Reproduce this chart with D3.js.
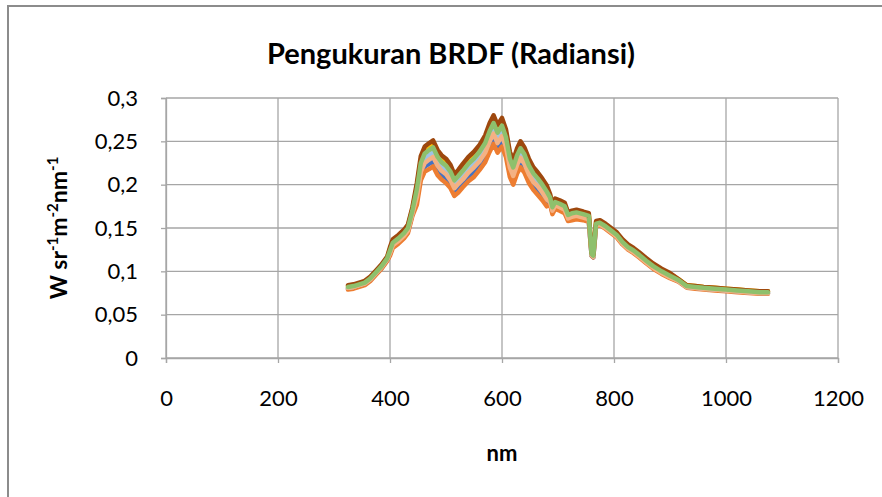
<!DOCTYPE html>
<html>
<head>
<meta charset="utf-8">
<script src="https://cdn.jsdelivr.net/npm/d3@7"></script>
<style>
  body { margin: 0; background: #fff; }
  text { font-family: Lato, "Open Sans", sans-serif; fill: #000; }
</style>
</head>
<body>
<div id="chart"></div>
<script>
// wavelengths (nm)
const wavelength = [325,335,345,355,365,375,385,395,
  400,405,415,425,432,440,
  448,455,462,470,477,485,492,500,508,515,
  522,530,540,550,560,570,578,585,592,600,
  607,614,620,627,633,640,648,656,664,672,
  680,686,690,695,703,712,718,725,733,745,
  755,760,763,768,775,785,795,805,815,825,
  835,845,858,870,885,900,915,930,945,960,
  980,1000,1020,1040,1060,1075];

// radiance per measurement (W sr-1 m-2 nm-1)
const seriesBlue = [.080,.081,.083,.085,.090,.097,.104,.113,
  .120,.129,.134,.140,.146,.166,
  .182,.210,.221,.224,.227,.217,.211,.208,.201,.192,
  .196,.202,.209,.215,.223,.232,.245,.253,.243,.251,
  .238,.215,.206,.219,.226,.220,.208,.199,.194,.187,
  .180,.179,.168,.174,.172,.169,.159,.161,.162,.160,
  .158,.118,.116,.153,.154,.150,.145,.140,.132,.126,
  .122,.117,.110,.104,.098,.093,.089,.082,.081,.080,
  .079,.078,.077,.076,.075,.075];

const seriesOrange = [.079,.080,.082,.084,.089,.096,.103,.112,
  .118,.127,.132,.138,.144,.164,
  .177,.205,.215,.218,.221,.211,.206,.202,.196,.187,
  .191,.197,.204,.209,.217,.226,.238,.247,.237,.244,
  .232,.209,.200,.213,.220,.214,.202,.194,.188,.182,
  .175,.177,.166,.172,.170,.167,.158,.159,.160,.159,
  .157,.118,.116,.152,.153,.149,.144,.139,.131,.125,
  .121,.116,.109,.103,.097,.092,.088,.081,.080,.079,
  .078,.077,.076,.075,.074,.074];

const seriesLightBlue = [.081,.082,.084,.086,.091,.098,.105,.114,
  .122,.131,.136,.142,.148,.168,
  .190,.219,.230,.234,.237,.226,.220,.216,.210,.200,
  .205,.211,.218,.224,.232,.242,.255,.264,.254,.261,
  .249,.224,.215,.228,.236,.229,.216,.208,.202,.195,
  .187,.182,.171,.177,.175,.172,.163,.164,.165,.164,
  .162,.119,.117,.154,.155,.151,.146,.141,.133,.127,
  .123,.118,.111,.105,.099,.094,.089,.082,.081,.080,
  .079,.078,.077,.076,.075,.075];

const seriesYellow = [.083,.084,.086,.088,.093,.100,.107,.116,
  .126,.135,.140,.146,.152,.172,
  .198,.229,.240,.244,.247,.236,.230,.226,.219,.209,
  .214,.220,.228,.234,.242,.252,.267,.276,.265,.273,
  .260,.234,.224,.238,.246,.239,.226,.217,.211,.204,
  .195,.187,.176,.182,.180,.177,.167,.169,.170,.168,
  .166,.121,.119,.157,.158,.154,.149,.144,.136,.130,
  .126,.121,.114,.108,.102,.097,.091,.084,.083,.082,
  .081,.080,.079,.078,.077,.077];

const seriesSalmon = [.081,.082,.084,.086,.091,.098,.105,.114,
  .121,.130,.135,.141,.147,.167,
  .186,.215,.225,.229,.232,.222,.216,.212,.205,.196,
  .201,.206,.214,.220,.227,.237,.250,.259,.248,.256,
  .244,.220,.210,.223,.231,.224,.212,.203,.198,.191,
  .183,.180,.170,.176,.174,.171,.161,.163,.164,.162,
  .160,.119,.117,.153,.154,.150,.145,.140,.132,.126,
  .122,.117,.110,.104,.098,.093,.089,.082,.081,.080,
  .079,.078,.077,.076,.075,.075];

const seriesBrown = [.084,.085,.087,.089,.094,.101,.108,.117,
  .128,.137,.142,.148,.154,.174,
  .202,.233,.244,.248,.251,.240,.234,.230,.223,.212,
  .217,.224,.232,.238,.246,.257,.271,.280,.269,.277,
  .264,.238,.228,.242,.250,.243,.230,.220,.214,.207,
  .199,.189,.177,.184,.182,.179,.168,.170,.171,.169,
  .167,.121,.119,.158,.159,.155,.150,.145,.137,.131,
  .127,.122,.115,.109,.103,.098,.091,.084,.083,.082,
  .081,.080,.079,.078,.077,.077];

const seriesGreen = [.082,.083,.085,.087,.092,.099,.106,.115,
  .124,.133,.138,.144,.150,.170,
  .195,.225,.236,.240,.243,.232,.226,.222,.215,.205,
  .210,.216,.224,.230,.238,.248,.262,.271,.260,.268,
  .255,.230,.220,.234,.242,.235,.222,.213,.207,.200,
  .192,.185,.174,.180,.178,.175,.165,.167,.168,.166,
  .164,.120,.118,.155,.156,.152,.147,.142,.134,.128,
  .124,.119,.112,.106,.100,.095,.090,.083,.082,.081,
  .080,.079,.078,.077,.076,.076];

const xTicks = [0, 200, 400, 600, 800, 1000, 1200];
const yTicks = [0, 0.05, 0.1, 0.15, 0.2, 0.25, 0.3];

const width = 882, height = 497,
    margin = ({ top: 98, right: 44, bottom: 139, left: 166 });

const series = [
  { values: seriesBlue, color: "#4472C4" },
  { values: seriesOrange, color: "#ED7D31" },
  { values: seriesLightBlue, color: "#9DC3E6" },
  { values: seriesYellow, color: "#FFC000" },
  { values: seriesSalmon, color: "#F4B183" },
  { values: seriesBrown, color: "#9E480E" },
  { values: seriesGreen, color: "#8EC06C" }
];

const svg = d3.select("#chart")
    .append("svg")
    .attr("width", width)
    .attr("height", height);

// chart area border (runs past the picture on right/bottom)
svg.append("rect")
    .attr("x", 8).attr("y", 6)
    .attr("width", 920).attr("height", 520)
    .attr("fill", "none")
    .attr("stroke", "#8c8c8c")
    .attr("stroke-width", 2);

let x = d3.scaleLinear()
    .domain([0, 1200])
    .range([margin.left, width - margin.right]);

let y = d3.scaleLinear()
    .domain([0, 0.3])
    .range([height - margin.bottom, margin.top]);

const gridColor = "#a6a6a6";

// gridlines
svg.append("g")
  .selectAll("line")
  .data(yTicks)
  .join("line")
    .attr("x1", margin.left).attr("x2", width - margin.right)
    .attr("y1", d => y(d)).attr("y2", d => y(d))
    .attr("stroke", gridColor).attr("stroke-width", 1.3);

svg.append("g")
  .selectAll("line")
  .data(xTicks)
  .join("line")
    .attr("x1", d => x(d)).attr("x2", d => x(d))
    .attr("y1", margin.top).attr("y2", height - margin.bottom)
    .attr("stroke", gridColor).attr("stroke-width", 1.3);

// axes
const fmt = d => String(d).replace(".", ",");

svg.append("g")
    .attr("transform", `translate(${margin.left},0)`)
    .call(d3.axisLeft(y).tickValues(yTicks).tickFormat(fmt).tickSize(5).tickPadding(23))
    .call(g => g.selectAll("line, path").attr("stroke", gridColor).attr("stroke-width", 1.3))
    .call(g => g.selectAll("text").attr("font-size", 22).attr("font-family", "Lato, sans-serif"));

svg.append("g")
    .attr("transform", `translate(0,${height - margin.bottom})`)
    .call(d3.axisBottom(x).tickValues(xTicks).tickFormat(d => d).tickSize(5).tickPadding(27))
    .call(g => g.selectAll("line, path").attr("stroke", gridColor).attr("stroke-width", 1.3))
    .call(g => g.selectAll("text").attr("font-size", 22).attr("font-family", "Lato, sans-serif"));

// lines
let line = d3.line()
    .x((d, i) => x(wavelength[i]))
    .y(d => y(d));

svg.append("g")
  .selectAll("path")
  .data(series)
  .join("path")
    .attr("d", d => line(d.values))
    .attr("fill", "none")
    .attr("stroke", d => d.color)
    .attr("stroke-width", 4.5)
    .attr("stroke-linejoin", "round")
    .attr("stroke-linecap", "round");

// title
svg.append("text")
    .attr("x", 451)
    .attr("y", 64)
    .attr("text-anchor", "middle")
    .attr("font-size", 29)
    .attr("font-weight", "bold")
    .text("Pengukuran BRDF (Radiansi)");

// x label
svg.append("text")
    .attr("x", (margin.left + width - margin.right) / 2)
    .attr("y", 461)
    .attr("text-anchor", "middle")
    .attr("font-size", 22)
    .attr("font-weight", "bold")
    .text("nm");

// y label with superscripts
const yl = svg.append("text")
    .attr("transform", "translate(67,228) rotate(-90)")
    .attr("text-anchor", "middle")
    .attr("font-size", 23)
    .attr("font-weight", "bold");
const parts = [["W sr", false], ["-1", true], ["m", false], ["-2", true], ["nm", false], ["-1", true]];
for (let [t, sup] of parts) {
  yl.append("tspan")
    .attr("font-size", sup ? 15 : 23)
    .attr("baseline-shift", sup ? "super" : null)
    .text(t);
}
</script>
</body>
</html>
